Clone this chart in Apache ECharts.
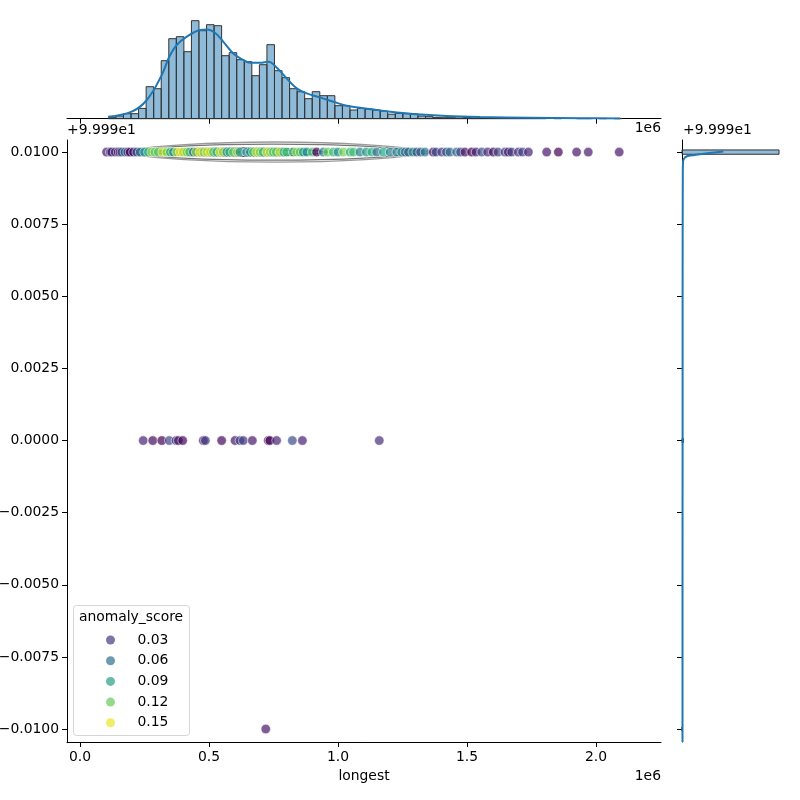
<!DOCTYPE html>
<html>
<head>
<meta charset="utf-8">
<script src="https://cdn.jsdelivr.net/npm/echarts@6/dist/echarts.min.js"></script>
<style>
  html, body { margin: 0; background: #fff; }
  #chart { width: 800px; height: 800px; }
</style>
</head>
<body>
<div id="chart"></div>
<script>
// ticks
const xTicks = [0, 0.5, 1.0, 1.5, 2.0]
const yTicks = [-0.01, -0.0075, -0.005, -0.0025, 0, 0.0025, 0.005, 0.0075, 0.01]
const legendScores = ['0.03', '0.06', '0.09', '0.12', '0.15']

// joint scatter (longest in 1e6, offset from 99.99, anomaly_score)
const rowLevels = [0.01, 0, -0.01]
const topRowX = [0.103, 0.117, 0.123, 0.136, 0.148, 0.155, 0.162, 0.174, 0.185, 0.194, 0.207, 0.22, 0.233, 0.25,
  0.265, 0.278, 0.29, 0.303, 0.32, 0.336, 0.35, 0.362, 0.375, 0.388, 0.40, 0.414, 0.425, 0.439, 0.45, 0.465,
  0.48, 0.491, 0.505, 0.517, 0.53, 0.543, 0.555, 0.569, 0.58, 0.594, 0.61, 0.62, 0.646, 0.66, 0.672, 0.685,
  0.698, 0.71, 0.724, 0.737, 0.749, 0.76, 0.775, 0.79, 0.801, 0.827, 0.84, 0.853, 0.865, 0.879, 0.90, 0.917,
  0.943, 0.96, 0.982, 1.0, 1.021, 1.047, 1.06, 1.085, 1.11, 1.131, 1.15, 1.176, 1.202, 1.228, 1.247, 1.26,
  1.273, 1.29, 1.305, 1.32, 1.337, 1.369, 1.38, 1.402, 1.42, 1.434, 1.46, 1.475, 1.492, 1.518, 1.535, 1.557,
  1.58, 1.602, 1.62, 1.647, 1.66, 1.673, 1.699, 1.715, 1.738, 1.809, 1.854, 1.925, 1.97, 2.09]
const topRowHue = [0.015, 0.03, 0.015, 0.03, 0.005, 0.02, 0.045, 0.055, 0.03, 0.005, 0.015, 0.04, 0.06, 0.08,
  0.1, 0.13, 0.12, 0.115, 0.14, 0.13, 0.1, 0.075, 0.135, 0.15, 0.14, 0.125, 0.11, 0.06, 0.13, 0.15,
  0.12, 0.145, 0.14, 0.115, 0.1, 0.15, 0.13, 0.075, 0.1, 0.12, 0.13, 0.075, 0.07, 0.09, 0.115, 0.14,
  0.125, 0.1, 0.145, 0.13, 0.11, 0.12, 0.14, 0.095, 0.11, 0.1, 0.13, 0.115, 0.09, 0.075, 0.11, 0.005,
  0.07, 0.12, 0.105, 0.08, 0.125, 0.1, 0.11, 0.07, 0.085, 0.1, 0.06, 0.095, 0.07, 0.065, 0.075, 0.06,
  0.05, 0.08, 0.045, 0.05, 0.065, 0.01, 0.04, 0.03, 0.045, 0.055, 0.055, 0.035, 0.015, 0.005, 0.02, 0.04,
  0.025, 0.008, 0.035, 0.03, 0.015, 0.03, 0.025, 0.035, 0.02, 0.015, 0.005, 0.015, 0.015, 0.015]
const midRowX = [0.245, 0.282, 0.317, 0.346, 0.372, 0.381, 0.398, 0.478, 0.486, 0.549, 0.601, 0.62, 0.633,
  0.668, 0.73, 0.736, 0.762, 0.823, 0.862, 1.16]
const midRowHue = [0.02, 0.01, 0.005, 0.035, 0.035, 0.012, 0.008, 0.015, 0.03, 0.008, 0.015, 0.035, 0.03,
  0.015, 0.005, 0.008, 0.02, 0.04, 0.018, 0.025]
const lowRowX = [0.72]
const lowRowHue = [0.015]

// top marginal histogram + kde (heights as read)
const histStart = 0.11
const histEnd = 2.1
const histCounts = [1, 2.7, 5, 5, 10.3, 32, 30, 58, 80, 82, 67, 98, 88, 94, 93, 63, 66, 59, 57, 43,
  54, 74, 48, 41, 30, 27, 20, 27, 23, 23, 13, 13, 8.7, 10.3, 9.7, 8.7, 7.7, 4.5, 5.3, 5,
  4.7, 2.7, 2, 1.3, 1, 1, 0.7, 1.3, 0.7, 1, 0.7, 0.7, 0.3, 0.7, 0.3, 0.3, 0.3, 0.3, 0, 0.3,
  0, 0, 0.3, 0.3, 0, 0.3, 0, 0.3]
const kdeX = [0.109, 0.2, 0.259, 0.317, 0.346, 0.375, 0.414, 0.465, 0.491, 0.523, 0.555, 0.594, 0.633, 0.659,
  0.698, 0.73, 0.762, 0.801, 0.84, 0.879, 0.93, 0.982, 1.034, 1.085, 1.137, 1.202, 1.291, 1.421, 1.55, 1.744,
  1.938, 2.093]
const kdeY = [2, 7, 18.7, 43.7, 62, 73.7, 82, 88.7, 89.3, 86, 77, 65.3, 58.7, 56,
  56, 57, 51.3, 40.3, 30.3, 25.3, 21.3, 17, 13, 11, 9.3, 7, 4.7, 2.7, 1.7, 1,
  0.5, 0.3]

// right marginal histogram + kde
const yHistValues = [-0.01, 0, 0.01]
const yHistCounts = [0.1, 1.4, 97]
const yHistHalfBin = 0.000075
const yKdeY = [-0.01045, -0.005, 0, 0.005, 0.0093, 0.00965, 0.00972, 0.00982, 0.00988, 0.00993, 0.00998, 0.01002]
const yKdeX = [0.5, 0.5, 0.6, 0.6, 0.8, 1.0, 1.3, 3, 8, 18, 30, 41.3]

// kde contours of the joint plot (x extent, half height)
const contourLo = [0.147, 0.17, 0.265, 0.3, 0.64, 0.37]
const contourHi = [1.364, 1.33, 0.96, 0.62, 0.84, 0.55]
const contourHalf = [0.00035, 0.00028, 0.00015, 0.0001, 0.00009, 0.00005]

const contourColors = ['#9a9a9a', '#777777', '#4a4a4a', '#303030', '#303030', '#1a1a1a']
const viridis = ['#440154', '#482475', '#414487', '#355f8d', '#2a788e', '#21918c', '#22a884', '#44bf70',
  '#7ad151', '#bddf26', '#fde725']
const legendColors = ['#443a83', '#2e6f8e', '#22a085', '#68cb5b', '#e8e425']
const font = 'DejaVu Sans'

function rowPoints(xs, hues, y) {
  return xs.map((x, i) => [x, y, hues[i]])
}
const scatterData = [
  ...rowPoints(midRowX, midRowHue, rowLevels[1]),
  ...rowPoints(lowRowX, lowRowHue, rowLevels[2]),
  ...rowPoints(topRowX, topRowHue, rowLevels[0]),
]

const binW = (histEnd - histStart) / histCounts.length
const histData = histCounts.map((c, i) => [histStart + i * binW, histStart + (i + 1) * binW, c])
const kdeData = kdeX.map((x, i) => [x, kdeY[i]])
const yHistData = yHistValues.map((v, i) => [v - yHistHalfBin, v + yHistHalfBin, yHistCounts[i]])
const yKdeData = yKdeY.map((y, i) => [yKdeX[i], y])
const contourData = contourLo.map((lo, i) => [lo, contourHi[i], contourHalf[i]])

const barStyle = { fill: 'rgba(31,119,180,0.5)', stroke: '#333', lineWidth: 1 }

function renderHistX(params, api) {
  if (api.value(2) <= 0) return
  const p0 = api.coord([api.value(0), api.value(2)])
  const p1 = api.coord([api.value(1), 0])
  return { type: 'rect', shape: { x: p0[0], y: p0[1], width: p1[0] - p0[0], height: p1[1] - p0[1] }, style: barStyle }
}

function renderHistY(params, api) {
  const p0 = api.coord([0, api.value(1)])
  const p1 = api.coord([api.value(2), api.value(0)])
  return { type: 'rect', shape: { x: p0[0], y: p0[1], width: p1[0] - p0[0], height: p1[1] - p0[1] }, style: barStyle }
}

function renderLens(params, api) {
  const y = rowLevels[0]
  const a = api.coord([api.value(0), y])
  const b = api.coord([api.value(1), y])
  const t = api.coord([api.value(0), y + api.value(2)])
  const h = (a[1] - t[1]) / 0.75
  const w = b[0] - a[0]
  const style = { stroke: contourColors[params.dataIndex], fill: null, lineWidth: 1.3 }
  return {
    type: 'group',
    children: [
      { type: 'bezierCurve', shape: { x1: a[0], y1: a[1], x2: b[0], y2: b[1], cpx1: a[0] + w * 0.2, cpy1: a[1] - h, cpx2: b[0] - w * 0.2, cpy2: b[1] - h }, style },
      { type: 'bezierCurve', shape: { x1: a[0], y1: a[1], x2: b[0], y2: b[1], cpx1: a[0] + w * 0.2, cpy1: a[1] + h, cpx2: b[0] - w * 0.2, cpy2: b[1] + h }, style },
    ],
  }
}

const axisLine = { show: true, onZero: false, lineStyle: { color: '#000', width: 1 } }
const tickX = { show: true, length: 5, customValues: xTicks, lineStyle: { color: '#000', width: 1 } }
const tickY = { show: true, length: 5, customValues: yTicks, lineStyle: { color: '#000', width: 1 } }
const labelFont = { color: '#000', fontFamily: font, fontSize: 13.9 }
const xMin = -0.0504
const xMax = 2.252
const yMin = -0.01045
const yMax = 0.01042

const chart = echarts.init(document.getElementById('chart'))
chart.setOption({
  animation: false,
  backgroundColor: '#fff',
  grid: [
    { left: 67, top: 140, width: 594, height: 602, outerBoundsMode: 'none', containLabel: false },
    { left: 67, top: 0, width: 594, height: 118.7, outerBoundsMode: 'none', containLabel: false },
    { left: 682, top: 140, width: 120, height: 602, outerBoundsMode: 'none', containLabel: false },
  ],
  xAxis: [
    {
      type: 'value', gridIndex: 0, min: xMin, max: xMax,
      axisLine, axisTick: tickX, splitLine: { show: false },
      axisLabel: { ...labelFont, margin: 8, customValues: xTicks, formatter: v => v.toFixed(1) },
      name: 'longest', nameLocation: 'middle', nameGap: 27,
      nameTextStyle: { ...labelFont },
    },
    {
      type: 'value', gridIndex: 1, min: xMin, max: xMax,
      axisLine, axisTick: tickX, splitLine: { show: false }, axisLabel: { show: false },
    },
    { type: 'value', gridIndex: 2, min: 0, max: 120, show: false },
  ],
  yAxis: [
    {
      type: 'value', gridIndex: 0, min: yMin, max: yMax,
      axisLine, axisTick: tickY, splitLine: { show: false },
      axisLabel: {
        ...labelFont, margin: 8, customValues: yTicks,
        formatter: v => (v < -1e-9 ? '\u2212' : '') + Math.abs(v).toFixed(4),
      },
    },
    { type: 'value', gridIndex: 1, min: 0, max: 118.7, show: false },
    {
      type: 'value', gridIndex: 2, min: yMin, max: yMax,
      axisLine, axisTick: tickY, splitLine: { show: false }, axisLabel: { show: false },
    },
  ],
  visualMap: {
    show: false, type: 'continuous', min: 0.005, max: 0.155, dimension: 2, seriesIndex: 1,
    inRange: { color: viridis },
  },
  legend: {
    data: legendScores.map(n => ({ name: n, icon: 'circle' })),
    orient: 'vertical', left: 101, top: 628, z: 20,
    itemWidth: 44, itemHeight: 9, itemGap: 6.7,
    selectedMode: false,
    itemStyle: { opacity: 0.7 },
    textStyle: { ...labelFont, lineHeight: 14 },
  },
  graphic: [
    { type: 'rect', left: 73, top: 605, z: 1, shape: { width: 116, height: 130, r: 3 }, style: { fill: 'rgba(255,255,255,0.8)', stroke: '#d5d5d5', lineWidth: 1 } },
    { type: 'text', x: 131, y: 617, z: 2, style: { text: 'anomaly_score', font: '13.9px DejaVu Sans', fill: '#000', align: 'center', verticalAlign: 'middle' } },
    { type: 'text', x: 67, y: 130, style: { text: '+9.999e1', font: '13.9px DejaVu Sans', fill: '#000', align: 'left', verticalAlign: 'middle' } },
    { type: 'text', x: 661, y: 128, style: { text: '1e6', font: '13.9px DejaVu Sans', fill: '#000', align: 'right', verticalAlign: 'middle' } },
    { type: 'text', x: 683, y: 130, style: { text: '+9.999e1', font: '13.9px DejaVu Sans', fill: '#000', align: 'left', verticalAlign: 'middle' } },
    { type: 'text', x: 661, y: 776, style: { text: '1e6', font: '13.9px DejaVu Sans', fill: '#000', align: 'right', verticalAlign: 'middle' } },
  ],
  series: [
    {
      type: 'custom', name: 'contours', xAxisIndex: 0, yAxisIndex: 0, z: 1,
      renderItem: renderLens, data: contourData, encode: { x: [0, 1] }, silent: true,
    },
    {
      type: 'scatter', name: 'points', xAxisIndex: 0, yAxisIndex: 0, z: 3,
      symbolSize: 9.5, data: scatterData,
      itemStyle: { opacity: 0.7, borderColor: '#fff', borderWidth: 0.8 },
    },
    ...legendScores.map((n, i) => ({
      type: 'scatter', name: n, xAxisIndex: 0, yAxisIndex: 0, data: [],
      itemStyle: { color: legendColors[i], opacity: 0.7 },
    })),
    {
      type: 'custom', name: 'histX', xAxisIndex: 1, yAxisIndex: 1,
      renderItem: renderHistX, data: histData, encode: { x: [0, 1], y: 2 },
    },
    {
      type: 'line', name: 'kdeX', xAxisIndex: 1, yAxisIndex: 1, data: kdeData,
      smooth: 0.4, showSymbol: false, z: 4,
      lineStyle: { color: '#1f77b4', width: 2 },
    },
    {
      type: 'custom', name: 'histY', xAxisIndex: 2, yAxisIndex: 2,
      renderItem: renderHistY, data: yHistData, encode: { x: 2, y: [0, 1] },
    },
    {
      type: 'line', name: 'kdeY', xAxisIndex: 2, yAxisIndex: 2, data: yKdeData,
      smooth: 0.3, showSymbol: false, z: 4,
      lineStyle: { color: '#1f77b4', width: 2 },
    },
  ],
})
</script>
</body>
</html>
